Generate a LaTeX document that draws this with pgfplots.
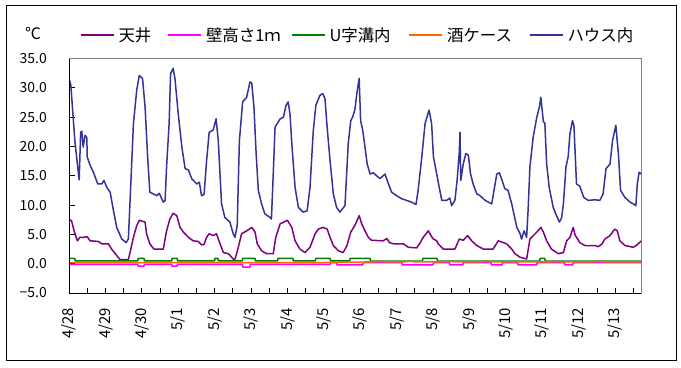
\documentclass[border=0pt]{standalone}
\usepackage{fontspec}
\setmainfont{Noto Sans CJK JP}
\usepackage{pgfplots}
\pgfplotsset{compat=1.18}
\definecolor{cNavy}{HTML}{333399}
\definecolor{cPurple}{HTML}{800080}
\definecolor{cMagenta}{HTML}{FF00FF}
\definecolor{cGreen}{HTML}{008000}
\definecolor{cOrange}{HTML}{FF6600}
\newcommand{\lt}[2]{\hspace*{4bp}\makebox[#1][l]{#2}}
\begin{document}
\begin{tikzpicture}[x=1bp,y=1bp]
\useasboundingbox (0,0) rectangle (681,367);
\fill[white] (0,0) rectangle (681,367);
\draw[black, line width=1bp] (6,7) rectangle (676,361);
\node[font=\fontsize{16}{18}\selectfont, inner sep=0pt] at (33,333) {℃};
\begin{axis}[
  at={(69bp,74bp)}, anchor=south west,
  scale only axis, width=572.3bp, height=234.5bp,
  xmin=0, xmax=15.72, ymin=-5, ymax=35,
  axis line style={draw=gray},
  tick align=inside, xtick pos=bottom, ytick pos=left,
  major tick length=5.5bp, minor tick length=5.5bp,
  tick style={black, line width=0.8bp},
  ytick={-5,0,5,10,15,20,25,30,35},
  yticklabels={−5.0,0.0,5.0,10.0,15.0,20.0,25.0,30.0,35.0},
  xtick={0,1,...,15},
  minor xtick={0.5,1.5,...,15.5},
  xticklabels={4/28,4/29,4/30,5/1,5/2,5/3,5/4,5/5,5/6,5/7,5/8,5/9,5/10,5/11,5/12,5/13},
  ticklabel style={font=\fontsize{14}{16}\selectfont},
  yticklabel style={anchor=east, inner sep=0pt, xshift=-22bp},
  xticklabel style={rotate=90, anchor=east, inner sep=0pt, font=\fontsize{15}{16}\selectfont},
  xticklabel shift=15bp,
  legend columns=5,
  legend style={draw=none, fill=none, at={(80bp-69bp,258bp)}, anchor=west,
    font=\fontsize{16.5}{18}\selectfont, inner sep=0pt, outer sep=0pt,
    /tikz/column sep=0pt, row sep=0pt,
    nodes={inner sep=0pt, outer sep=0pt}},
  legend image code/.code={\draw[#1] (0bp,0bp) -- (33bp,0bp);},
  every axis plot/.append style={line width=1.5bp, line join=round},
  clip=true,
]
\addplot[cPurple] coordinates {
(0.00,7.6)(0.07,7.3)(0.14,5.6)(0.23,3.9)(0.30,4.5)(0.39,4.5)(0.50,4.6)(0.58,3.9)
(0.80,3.8)(0.90,3.4)(1.08,3.4)(1.17,2.5)(1.31,1.4)(1.40,0.7)(1.63,0.7)(1.68,2.0)
(1.77,4.5)(1.86,6.5)(1.93,7.4)(2.09,7.1)(2.13,5.1)(2.22,3.4)(2.33,2.5)(2.59,2.5)
(2.68,5.6)(2.77,7.6)(2.86,8.6)(2.96,8.2)(3.05,6.2)(3.14,5.4)(3.28,4.5)(3.41,3.9)
(3.55,3.8)(3.64,3.2)(3.71,3.3)(3.78,4.5)(3.85,5.1)(3.96,4.8)(4.05,5.1)(4.15,3.4)
(4.24,1.9)(4.38,1.7)(4.51,0.8)(4.56,0.8)(4.59,1.4)(4.65,2.8)(4.74,5.1)(4.88,5.6)
(5.02,6.2)(5.11,5.4)(5.17,3.4)(5.29,2.2)(5.43,1.7)(5.61,1.7)(5.68,4.5)(5.80,6.8)
(5.93,7.2)(6.00,7.4)(6.12,6.2)(6.21,3.9)(6.34,2.5)(6.48,1.9)(6.62,2.8)(6.76,5.1)
(6.85,5.9)(6.98,6.2)(7.09,5.9)(7.17,4.5)(7.26,3.1)(7.40,2.2)(7.53,1.9)(7.63,3.0)
(7.74,5.4)(7.85,6.5)(7.97,8.2)(8.04,6.8)(8.13,5.6)(8.22,4.5)(8.31,4.0)(8.63,3.9)
(8.73,4.3)(8.80,3.6)(8.91,3.4)(9.18,3.4)(9.32,2.8)(9.55,2.7)(9.64,3.5)(9.73,4.5)
(9.87,5.6)(9.96,4.6)(10.01,4.2)(10.10,3.9)(10.14,3.4)(10.28,2.5)(10.60,2.5)(10.72,4.2)
(10.83,4.0)(10.95,4.8)(11.06,3.9)(11.20,3.1)(11.38,2.5)(11.65,2.5)(11.79,3.9)(11.88,3.7)
(12.02,3.4)(12.16,2.5)(12.25,1.7)(12.39,1.1)(12.57,0.8)(12.66,4.2)(12.85,5.4)(12.96,6.2)
(13.03,5.4)(13.12,3.9)(13.25,2.5)(13.44,1.7)(13.58,1.9)(13.67,3.9)(13.76,4.5)(13.85,6.2)
(13.90,4.9)(14.03,3.6)(14.17,3.1)(14.45,3.1)(14.53,2.9)(14.63,3.3)(14.72,4.2)(14.86,4.8)
(14.99,5.9)(15.06,5.6)(15.13,3.9)(15.27,3.1)(15.50,2.8)(15.60,3.2)(15.72,3.9)
};
\addlegendentry{\lt{49bp}{天井}}
\addplot[cMagenta] coordinates {
(0,-0.1)(1.89,-0.1)(1.90,-0.4)(2.06,-0.4)(2.07,-0.1)(2.82,-0.1)(2.83,-0.4)(2.97,-0.4)
(2.98,-0.1)(4.76,-0.1)(4.78,-0.6)(4.97,-0.6)(4.98,-0.1)(7.17,-0.1)(7.2,0.2)(7.35,0.2)
(7.36,-0.2)(8.07,-0.2)(8.08,0.2)(9.14,0.2)(9.15,-0.2)(10.0,-0.2)(10.01,0.2)(10.45,0.2)
(10.46,-0.2)(10.82,-0.2)(10.83,0.2)(11.59,0.2)(11.6,-0.2)(11.9,-0.2)(11.91,0.2)(12.32,0.2)
(12.33,-0.2)(12.85,-0.2)(12.86,0.2)(13.61,0.2)(13.62,-0.2)(13.84,-0.2)(13.85,0.2)(15.72,0.2)
};
\addlegendentry{\lt{85bp}{壁高さ1ｍ}}
\addplot[cGreen] coordinates {
(0,0.9)(0.16,0.9)(0.17,0.5)(1.89,0.5)(1.90,0.9)(2.06,0.9)(2.07,0.5)(2.82,0.5)(2.83,0.9)
(2.97,0.9)(2.98,0.5)(4.00,0.5)(4.01,0.9)(4.09,0.9)(4.10,0.5)(4.76,0.5)(4.77,0.9)(5.11,0.9)
(5.12,0.5)(5.73,0.5)(5.74,0.9)(6.15,0.9)(6.16,0.5)(6.77,0.5)(6.78,0.9)(7.17,0.9)(7.18,0.5)
(7.71,0.5)(7.72,0.9)(8.27,0.9)(8.28,0.45)(9.71,0.45)(9.72,0.9)(10.11,0.9)(10.12,0.45)
(12.93,0.45)(12.94,0.9)(13.07,0.9)(13.08,0.45)(15.72,0.45)
};
\addlegendentry{\lt{79bp}{U字溝内}}
\addplot[cOrange] coordinates {
(0,0.2)(7.0,0.2)(7.5,0.25)(8.3,0.3)(8.6,0.4)(8.7,0.3)(9.2,0.3)(9.4,0.4)(9.5,0.3)
(10.2,0.3)(10.5,0.4)(10.6,0.3)(11.3,0.3)(11.5,0.4)(11.6,0.3)(12.4,0.3)(13.2,0.3)
(13.4,0.4)(13.5,0.3)(14.3,0.3)(14.6,0.4)(14.7,0.3)(15.72,0.3)
};
\addlegendentry{\lt{82bp}{酒ケース}}
\addplot[cNavy] coordinates {
(0.00,31.6)(0.05,30.5)(0.16,21.0)(0.23,17.0)(0.28,14.3)(0.32,22.4)(0.35,22.6)(0.39,19.9)
(0.44,21.9)(0.49,21.5)(0.50,18.2)(0.58,16.8)(0.67,15.6)(0.79,13.6)(0.90,13.6)(0.96,14.2)
(1.04,13.0)(1.13,12.2)(1.22,9.1)(1.31,6.2)(1.45,4.2)(1.57,3.6)(1.63,4.2)(1.69,12.5)
(1.77,23.9)(1.86,29.6)(1.93,32.1)(2.02,31.6)(2.09,26.7)(2.16,18.2)(2.22,12.2)(2.32,11.9)
(2.41,11.6)(2.48,12.0)(2.59,10.5)(2.64,10.8)(2.68,16.5)(2.75,23.9)(2.79,32.4)(2.86,33.3)
(2.91,31.6)(3.00,25.6)(3.10,19.9)(3.19,16.2)(3.28,16.0)(3.37,14.5)(3.51,13.6)(3.58,13.9)
(3.64,11.6)(3.71,11.8)(3.78,17.6)(3.85,22.4)(3.96,22.8)(4.04,24.7)(4.10,21.0)(4.19,10.2)
(4.28,7.9)(4.42,7.1)(4.51,5.1)(4.56,4.5)(4.62,6.5)(4.68,21.0)(4.77,27.6)(4.88,28.4)
(4.97,31.0)(5.02,30.8)(5.08,26.7)(5.14,18.8)(5.20,12.5)(5.29,10.2)(5.38,8.5)(5.52,7.9)
(5.56,7.6)(5.61,15.3)(5.66,23.3)(5.80,24.7)(5.89,25.0)(5.96,27.0)(6.02,27.6)(6.07,25.5)
(6.12,20.5)(6.21,13.0)(6.30,9.6)(6.43,8.8)(6.54,9.0)(6.62,13.0)(6.71,22.7)(6.78,27.0)
(6.89,28.7)(6.97,29.0)(7.03,28.2)(7.09,23.3)(7.17,17.6)(7.26,11.9)(7.35,9.6)(7.44,8.8)
(7.58,9.9)(7.67,20.5)(7.74,24.4)(7.79,25.0)(7.85,26.2)(7.92,29.6)(7.97,31.6)(8.01,24.4)
(8.07,22.7)(8.13,19.9)(8.19,17.0)(8.27,15.3)(8.36,15.5)(8.45,15.0)(8.54,14.5)(8.68,15.3)
(8.74,14.2)(8.86,12.2)(9.00,11.6)(9.13,11.1)(9.27,10.8)(9.41,10.5)(9.53,10.1)(9.59,12.5)
(9.69,18.2)(9.78,23.9)(9.89,26.2)(9.96,23.9)(10.01,18.2)(10.10,15.3)(10.17,13.0)(10.24,10.8)
(10.37,10.8)(10.46,11.2)(10.51,9.9)(10.60,10.8)(10.66,14.2)(10.72,19.0)(10.74,22.4)(10.76,14.2)
(10.83,17.0)(10.90,18.8)(10.97,18.5)(11.03,15.3)(11.10,13.6)(11.20,11.9)(11.29,11.6)(11.43,10.8)
(11.61,10.2)(11.66,12.0)(11.75,15.3)(11.82,15.5)(11.88,14.5)(11.97,12.8)(12.06,12.5)(12.16,10.2)
(12.22,8.5)(12.30,6.2)(12.39,5.1)(12.43,4.2)(12.50,5.6)(12.57,4.5)(12.61,9.1)(12.66,16.5)
(12.75,21.6)(12.85,25.0)(12.92,26.7)(12.96,28.4)(13.03,24.2)(13.07,24.0)(13.12,17.0)(13.19,13.0)
(13.30,9.6)(13.39,8.2)(13.47,7.1)(13.53,7.8)(13.58,10.2)(13.65,16.5)(13.71,18.2)(13.76,22.2)
(13.83,24.4)(13.87,23.5)(13.94,13.6)(14.03,13.2)(14.14,11.3)(14.26,10.8)(14.45,10.9)(14.58,10.8)
(14.67,11.9)(14.75,16.2)(14.86,17.0)(14.93,21.0)(15.02,23.6)(15.09,18.8)(15.15,12.5)(15.27,11.3)
(15.41,10.5)(15.50,10.2)(15.57,9.9)(15.61,13.6)(15.66,15.6)(15.72,15.3)
};
\addlegendentry{\lt{68bp}{ハウス内}}
\draw[black, line width=0.8bp] (rel axis cs:0,1) -- (rel axis cs:0,0) -- (rel axis cs:1,0);
\end{axis}
\end{tikzpicture}
\end{document}
